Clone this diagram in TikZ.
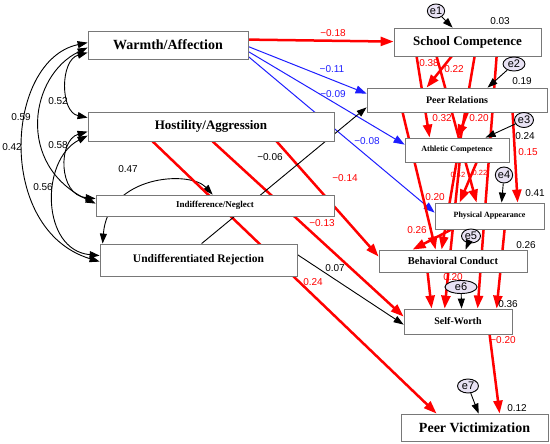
\documentclass[tikz,border=0pt]{standalone}
\usepackage{fontspec}
\setmainfont{Liberation Serif}
\setsansfont{Liberation Sans}
\usetikzlibrary{arrows.meta,calc,shapes.geometric,backgrounds}
\definecolor{boxgray}{RGB}{120,120,120}
\definecolor{errfill}{RGB}{232,226,244}
\definecolor{pathred}{RGB}{255,0,0}
\definecolor{pathblue}{RGB}{30,30,255}
\begin{document}
\begin{tikzpicture}[x=1pt,y=-1pt,
  box/.style={draw=boxgray, fill=white, line width=0.8pt, inner sep=0pt},
  bf/.style={font=\bfseries\fontsize{#1}{#1}\selectfont},
  lab/.style={font=\sffamily\fontsize{10}{10}\selectfont, inner sep=0pt},
  slab/.style={font=\sffamily\fontsize{7.5}{7.5}\selectfont, inner sep=0pt},
  err/.style={ellipse, draw=black, fill=errfill, line width=0.9pt, inner sep=0pt, font=\sffamily\fontsize{11}{11}\selectfont},
  redp/.style={draw=pathred, line width=2.5pt, -{Triangle[length=13pt,width=9pt]}},
  bluep/.style={draw=pathblue, line width=1pt, -{Triangle[length=11pt,width=8pt]}},
  blackp/.style={draw=black, line width=0.9pt, -{Triangle[length=10pt,width=7pt]}},
  corr/.style={draw=black, line width=0.9pt, {Triangle[length=10pt,width=7pt]}-{Triangle[length=10pt,width=7pt]}},
]
\useasboundingbox (0,0) rectangle (550,444);

% ---------- boxes ----------
\node[box,bf=14,minimum width=160pt,minimum height=28pt] (wa) at (168,45) {Warmth/Affection};
\node[box,bf=13,minimum width=246pt,minimum height=29pt] (ha) at (211,126.5) {Hostility/Aggression};
\node[box,bf=9,minimum width=238pt,minimum height=21pt] (in) at (215,205.5) {Indifference/Neglect};
\node[box,bf=11.5,minimum width=197pt,minimum height=32pt] (ur) at (198.5,260) {Undifferentiated Rejection};
\node[box,bf=13,minimum width=147pt,minimum height=28pt] (sc) at (467.5,42) {School Competence};
\node[box,bf=10,minimum width=180pt,minimum height=24pt] (pr) at (457,100) {Peer Relations};
\node[box,bf=8,minimum width=104pt,minimum height=24pt] (ac) at (457,150) {Athletic Competence};
\node[box,bf=8,minimum width=109pt,minimum height=26pt] (pa) at (489.5,216) {Physical Appearance};
\node[box,bf=10.5,minimum width=148pt,minimum height=22pt] (bc) at (453,261) {Behavioral Conduct};
\node[box,bf=10,minimum width=108pt,minimum height=25pt] (sw) at (458,321.5) {Self-Worth};
\node[box,bf=14,minimum width=147pt,minimum height=27pt] (pv) at (474.5,427.5) {Peer Victimization};

% ---------- connectors (behind boxes) ----------
\begin{pgfonlayer}{background}
% correlations
\draw[corr] ($(wa.north west)+(0,22)$) .. controls (60,60) and (60,112) .. ($(ha.north west)+(0,6)$);
\draw[corr] ($(wa.north west)+(0,12)$) .. controls (5,60) and (-5,230) .. ($(ur.north west)+(0,18)$);
\draw[corr] ($(wa.north west)+(0,17)$) .. controls (30,75) and (15,165) .. ($(in.north west)+(0,9)$);
\draw[corr] ($(ha.north west)+(0,20)$) .. controls (58,140) and (58,195) .. ($(in.north west)+(0,4)$);
\draw[corr] ($(ha.north west)+(0,24)$) .. controls (40,160) and (41,250) .. ($(ur.north west)+(0,12)$);
\draw[corr] ($(ur.north west)+(3,0)$) .. controls (108,175) and (190,170) .. ($(in.north west)+(117,0)$);

% Warmth paths
\draw[redp] ($(wa.north east)+(0,9)$) -- ($(sc.north west)+(0,14)$);
\draw[bluep] ($(wa.north east)+(0,16)$) -- ($(pr.north west)+(0,6)$);
\draw[bluep] ($(wa.north east)+(0,21)$) -- ($(ac.north west)+(0,7)$);
\draw[bluep] ($(wa.north east)+(0,26)$) -- ($(pa.north west)+(0,10)$);

% Hostility paths
\draw[redp] ($(ha.south west)+(65,0)$) -- ($(pv.north west)+(36,0)$);
\draw[redp] ($(ha.south west)+(125,0)$) -- ($(sw.north west)+(0,8)$);
\draw[redp] ($(ha.south west)+(189,0)$) -- ($(bc.north west)+(0,7)$);

% Undifferentiated rejection paths
\draw[blackp] ($(ur.north west)+(102,0)$) -- ($(pr.south west)+(0,-5)$);
\draw[blackp] ($(ur.north east)+(0,11)$) -- ($(sw.north west)+(0,16)$);

% among self-perceptions
\draw[redp] ($(sc.south west)+(58,0)$) -- ($(pr.north west)+(60,0)$);
\draw[redp] ($(sc.south west)+(23,0)$) -- ($(ac.north west)+(25,0)$);
\draw[redp] ($(sc.south west)+(43,0)$) -- ($(pa.north west)+(42,0)$);
\draw[redp] ($(sc.south west)+(81,0)$) -- ($(bc.north west)+(63,0)$);
\draw[redp] ($(sc.south west)+(103,0)$) -- ($(sw.north west)+(74,0)$);
\draw[redp] ($(pr.south west)+(101,0)$) -- ($(ac.north west)+(53,0)$);
\draw[redp] ($(pr.south west)+(146,0)$) -- ($(pa.north west)+(83,0)$);
\draw[redp] ($(pr.south west)+(36,0)$) -- ($(bc.north west)+(57,0)$);
\draw[redp] ($(ac.south west)+(72,0)$) -- ($(pa.north west)+(25,0)$);
\draw[redp] ($(ac.south west)+(55,0)$) -- ($(sw.north west)+(41,0)$);
\draw[redp] ($(pa.south west)+(17,0)$) -- ($(bc.north west)+(34,0)$);
\draw[redp] ($(pa.south west)+(70,0)$) -- ($(sw.north west)+(93,0)$);
\draw[redp] ($(bc.south west)+(49,0)$) -- ($(sw.north west)+(28,0)$);
\draw[redp] ($(sw.south west)+(86,0)$) -- ($(pv.north west)+(99,0)$);
\end{pgfonlayer}

% ---------- error terms ----------
\node[err,minimum width=17pt,minimum height=14pt] (e1) at (436,11) {e1};
\node[err,minimum width=22pt,minimum height=14pt] (e2) at (514,64) {e2};
\node[err,minimum width=19pt,minimum height=15pt] (e3) at (524,120) {e3};
\node[err,minimum width=17pt,minimum height=16pt] (e4) at (504,175) {e4};
\node[err,minimum width=19pt,minimum height=14pt] (e5) at (471,236) {e5};
\node[err,minimum width=32pt,minimum height=13pt] (e6) at (461,287) {e6};
\node[err,minimum width=21pt,minimum height=14pt] (e7) at (468,386) {e7};
\draw[blackp] (e1) -- ($(sc.north west)+(59,0)$);
\draw[blackp] (e2) -- ($(pr.north west)+(121,0)$);
\draw[blackp] (e3) -- ($(ac.north west)+(81,0)$);
\draw[blackp] (e4) -- ($(pa.north west)+(67,0)$);
\draw[blackp] (e5) -- ($(bc.north west)+(87,0)$);
\draw[blackp] (e6) -- ($(sw.north west)+(58,0)$);
\draw[blackp] (e7) -- ($(pv.north west)+(78,0)$);

% ---------- labels ----------
\node[lab] (c1) at (21,117) {0.59};
\node[lab] (c2) at (12,147) {0.42};
\node[lab] (c3) at (58,101) {0.52};
\node[lab] (c4) at (58,145) {0.58};
\node[lab] (c5) at (43,187) {0.56};
\node[lab] (c6) at (128,169) {0.47};

\node[lab,pathred] (p1) at (333,33) {−0.18};
\node[lab,pathblue] (p2) at (332,69) {−0.11};
\node[lab,pathblue] (p3) at (333,94) {−0.09};
\node[lab,pathblue] (p4) at (367,141) {−0.08};
\node[lab] (p5) at (270,157) {−0.06};
\node[lab,pathred] (p6) at (345,178) {−0.14};
\node[lab,pathred] (p7) at (322,223) {−0.13};
\node[lab,pathred] (p8) at (313,282) {0.24};
\node[lab] (p9) at (335,268) {0.07};

\node[lab,pathred] (q1) at (429,63) {0.38};
\node[lab,pathred] (q2) at (454,69) {0.22};
\node[lab,pathred] (q3) at (442,118) {0.32};
\node[lab,pathred] (q4) at (479,118) {0.20};
\node[lab,pathred] (q5) at (528,152) {0.15};
\node[slab,pathred] (q6) at (458,175) {0.42};
\node[slab,pathred] (q7) at (480,173) {0.22};
\node[lab,pathred] (q8) at (435,197) {0.20};
\node[lab,pathred] (q9) at (417,230) {0.26};
\node[lab,pathred] (q10) at (453,277) {0.20};
\node[lab,pathred] (q11) at (503,340) {−0.20};

\node[lab] (r1) at (500,21) {0.03};
\node[lab] (r2) at (522,81) {0.19};
\node[lab] (r3) at (525,136) {0.24};
\node[lab] (r4) at (535,193) {0.41};
\node[lab] (r5) at (526,245) {0.26};
\node[lab] (r6) at (508,304) {0.36};
\node[lab] (r7) at (517,408) {0.12};
\end{tikzpicture}
\end{document}
